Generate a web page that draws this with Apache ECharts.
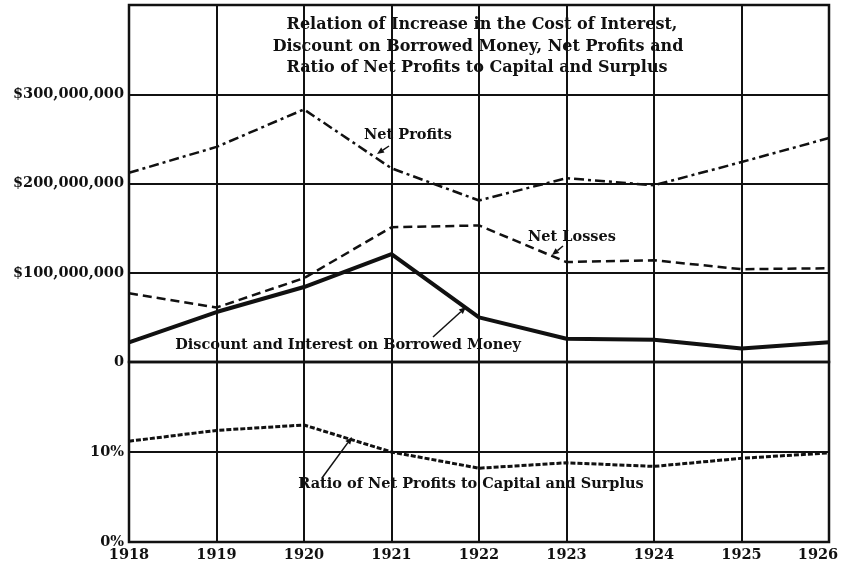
<!DOCTYPE html>
<html>
<head>
<meta charset="utf-8">
<script src="https://cdn.jsdelivr.net/npm/echarts@6/dist/echarts.min.js"></script>
<style>
  html, body { margin: 0; padding: 0; background: #fff; }
  #main { width: 843px; height: 566px; }
</style>
</head>
<body>
<div id="main"></div>
<script>
// years on the x axis
const years = ['1918', '1919', '1920', '1921', '1922', '1923', '1924', '1925', '1926']
// dollar series, in millions
const netProfits = [212, 241, 283, 217, 181, 206, 198, 224, 251]
const netLosses = [77, 61, 94, 151, 153, 112, 114, 104, 105]
const discountInterest = [22, 56, 84, 121, 50, 26, 25, 15, 22]
// ratio of net profits to capital and surplus, percent
const profitRatio = [11.2, 12.4, 13.0, 10.0, 8.2, 8.8, 8.4, 9.3, 9.9]
// tick labels
const dollarTicks = { 0: '0', 100: '$100,000,000', 200: '$200,000,000', 300: '$300,000,000' }
const percentTicks = { 0: '0%', 10: '10%' }

const titleLines = [
  'Relation of Increase in the Cost of Interest,',
  'Discount on Borrowed Money, Net Profits and',
  'Ratio of Net Profits to Capital and Surplus'
]

const ink = '#111'
const serif = 'DejaVu Serif'

// small arrow: shaft + filled head at (x2, y2)
function arrow (x1, y1, x2, y2) {
  const a = Math.atan2(y2 - y1, x2 - x1)
  const len = 7
  const w = 3
  const bx = x2 - len * Math.cos(a)
  const by = y2 - len * Math.sin(a)
  return [
    {
      type: 'line',
      shape: { x1: x1, y1: y1, x2: bx, y2: by },
      style: { stroke: ink, lineWidth: 1.5 }
    },
    {
      type: 'polygon',
      shape: {
        points: [
          [x2, y2],
          [bx + w * Math.sin(a), by - w * Math.cos(a)],
          [bx - w * Math.sin(a), by + w * Math.cos(a)]
        ]
      },
      style: { fill: ink }
    }
  ]
}

function label (text, x, y, size) {
  return {
    type: 'text',
    x: x,
    y: y,
    z: 10,
    style: {
      text: text,
      fill: ink,
      font: 'bold ' + size + 'px "' + serif + '"',
      textAlign: 'center',
      textVerticalAlign: 'middle'
    }
  }
}

const graphics = [
  label(titleLines[0], 482, 25, 16),
  label(titleLines[1], 478, 47, 16),
  label(titleLines[2], 477, 68, 16),
  label('Net Profits', 408, 135, 14.5),
  label('Net Losses', 572, 237, 14.5),
  label('Discount and Interest on Borrowed Money', 348, 345, 14.5),
  label('Ratio of Net Profits to Capital and Surplus', 471, 484, 14.5)
].concat(
  arrow(389, 146, 377, 154),
  arrow(563, 246, 552, 255),
  arrow(433, 337, 466, 307),
  arrow(322, 478, 352, 437)
)

const axisText = {
  color: ink,
  fontFamily: serif,
  fontWeight: 'bold',
  fontSize: 14.5
}

const gridBase = {
  left: 129,
  right: 14,
  show: true,
  borderColor: ink,
  borderWidth: 2.5,
  containLabel: false,
  outerBoundsMode: 'none'
}

const option = {
  animation: false,
  backgroundColor: '#fff',
  grid: [
    Object.assign({ top: 5, height: 357 }, gridBase),
    Object.assign({ top: 362, height: 180 }, gridBase)
  ],
  xAxis: [
    {
      type: 'category',
      gridIndex: 0,
      data: years,
      boundaryGap: false,
      axisLine: { show: false },
      axisTick: { show: false },
      axisLabel: { show: false },
      splitLine: { show: true, interval: 0, lineStyle: { color: ink, width: 2 } }
    },
    {
      type: 'category',
      gridIndex: 1,
      data: years,
      boundaryGap: false,
      axisLine: { show: false },
      axisTick: { show: false },
      axisLabel: Object.assign({
        interval: 0,
        margin: 6,
        // last year sits at the frame edge, nudge it left so it stays on the page
        formatter: (v) => v === years[years.length - 1] ? '{last|' + v + '}' : v,
        rich: {
          last: Object.assign({ padding: [0, 22, 0, 0] }, axisText)
        }
      }, axisText),
      splitLine: { show: true, interval: 0, lineStyle: { color: ink, width: 2 } }
    }
  ],
  yAxis: [
    {
      type: 'value',
      gridIndex: 0,
      min: 0,
      max: 400,
      interval: 100,
      axisLine: { show: false },
      axisTick: { show: false },
      axisLabel: Object.assign({
        margin: 5,
        formatter: (v) => dollarTicks[v] || ''
      }, axisText),
      splitLine: { lineStyle: { color: ink, width: 2 } }
    },
    {
      type: 'value',
      gridIndex: 1,
      min: 0,
      max: 20,
      interval: 10,
      axisLine: { show: false },
      axisTick: { show: false },
      axisLabel: Object.assign({
        margin: 5,
        formatter: (v) => percentTicks[v] || ''
      }, axisText),
      splitLine: { lineStyle: { color: ink, width: 2 } }
    }
  ],
  series: [
    {
      name: 'Net Profits',
      type: 'line',
      xAxisIndex: 0,
      yAxisIndex: 0,
      data: netProfits,
      symbol: 'none',
      lineStyle: { color: ink, width: 2.5, type: [10, 4, 3, 4] }
    },
    {
      name: 'Net Losses',
      type: 'line',
      xAxisIndex: 0,
      yAxisIndex: 0,
      data: netLosses,
      symbol: 'none',
      lineStyle: { color: ink, width: 2.5, type: [9, 5] }
    },
    {
      name: 'Discount and Interest on Borrowed Money',
      type: 'line',
      xAxisIndex: 0,
      yAxisIndex: 0,
      data: discountInterest,
      symbol: 'none',
      lineStyle: { color: ink, width: 4 }
    },
    {
      name: 'Ratio of Net Profits to Capital and Surplus',
      type: 'line',
      xAxisIndex: 1,
      yAxisIndex: 1,
      data: profitRatio,
      symbol: 'none',
      lineStyle: { color: ink, width: 3, type: [5, 2] }
    }
  ],
  graphic: graphics
}

const myChart = echarts.init(document.getElementById('main'))
myChart.setOption(option)
window.addEventListener('resize', () => {
  myChart.resize()
})
</script>
</body>
</html>
